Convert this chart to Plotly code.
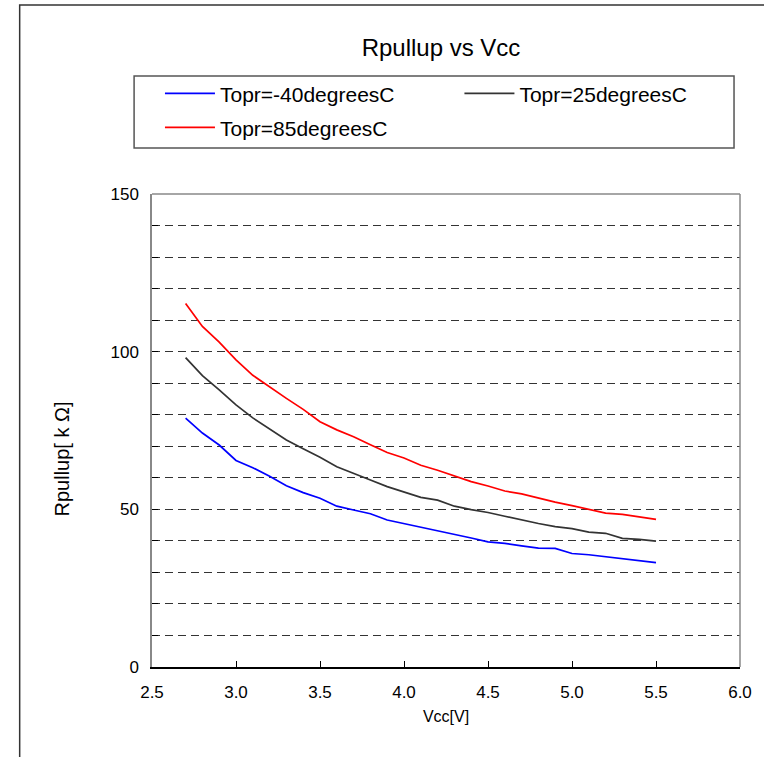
import plotly.graph_objects as go

vcc = [2.7, 2.8, 2.9, 3.0, 3.1, 3.2, 3.3, 3.4, 3.5, 3.6, 3.7, 3.8, 3.9, 4.0, 4.1,
       4.2, 4.3, 4.4, 4.5, 4.6, 4.7, 4.8, 4.9, 5.0, 5.1, 5.2, 5.3, 5.4, 5.5]

r_m40 = [78.9, 74.2, 70.4, 65.5, 63.2, 60.5, 57.5, 55.3, 53.5, 51.0, 49.8, 48.6, 46.6, 45.5, 44.2,
         43.1, 42.0, 40.9, 39.7, 39.2, 38.4, 37.7, 37.6, 36.0, 35.6, 35.0, 34.4, 33.8, 33.1]
r_25 = [98.1, 92.4, 87.9, 83.1, 79.0, 75.5, 72.0, 69.2, 66.5, 63.5, 61.5, 59.3, 57.2, 55.5, 53.8,
        52.9, 51.0, 49.9, 49.0, 47.8, 46.6, 45.5, 44.5, 43.9, 42.8, 42.4, 40.8, 40.5, 39.9]
r_85 = [115.3, 108.0, 103.0, 97.4, 92.5, 88.8, 85.2, 81.7, 77.8, 75.2, 73.0, 70.5, 68.0, 66.3, 64.0,
        62.4, 60.5, 58.8, 57.4, 55.8, 54.9, 53.5, 52.3, 51.2, 50.0, 48.8, 48.4, 47.5, 46.8]

names = ["Topr=-40degreesC", "Topr=25degreesC", "Topr=85degreesC"]
colors = ["#0000FF", "#333333", "#FF0000"]
x_ticks = [2.5, 3.0, 3.5, 4.0, 4.5, 5.0, 5.5, 6.0]
y_ticks = [0, 50, 100, 150]

FONT = "Liberation Sans, Arial, sans-serif"

# plot area in pixels: x 152..743, y 194..667
def px_x(p):
    return (p - 152) / 591

def px_y(p):
    return (667 - p) / 473

fig = go.Figure()
series = [r_m40, r_25, r_85]
legends = ["legend", "legend2", "legend3"]
for ys, nm, c, lg in zip(series, names, colors, legends):
    fig.add_trace(go.Scatter(x=vcc, y=ys, mode="lines", name=nm,
                             line=dict(color=c, width=1.7), legend=lg))

leg_common = dict(orientation="h", xanchor="left", yanchor="middle", itemwidth=50,
                  bgcolor="rgba(0,0,0,0)", borderwidth=0,
                  font=dict(family=FONT, size=21, color="black"))

fig.update_layout(
    width=764, height=757,
    margin=dict(l=152, r=21, t=194, b=90),
    paper_bgcolor="white", plot_bgcolor="white",
    font=dict(family=FONT, size=17, color="black"),
    title=dict(text="Rpullup vs Vcc", x=441/764, xref="container", xanchor="center",
               y=1-48/757, yref="container", yanchor="middle",
               font=dict(family=FONT, size=24, color="black")),
    legend=dict(x=px_x(160), y=px_y(93.7), **leg_common),
    legend2=dict(x=px_x(461), y=px_y(93.7), **leg_common),
    legend3=dict(x=px_x(160), y=px_y(127.7), **leg_common),
    showlegend=True,
)

fig.update_xaxes(
    range=[2.5, 6.0], tickvals=x_ticks, ticktext=[f"{v:.1f}" for v in x_ticks],
    ticks="inside", ticklen=6, tickcolor="black", tickwidth=1,
    showline=True, linecolor="black", linewidth=1.5,
    showgrid=False, zeroline=False, ticklabelstandoff=9,
    tickfont=dict(size=17),
    title=dict(text="Vcc[V]", standoff=10, font=dict(size=16)),
)
fig.update_yaxes(
    range=[0, 150], tickvals=y_ticks,
    ticks="inside", ticklen=6, tickcolor="black", tickwidth=1,
    showline=True, linecolor="#888888", linewidth=1.5,
    showgrid=True, gridcolor="#333333", gridwidth=1, griddash="8px,5px",
    minor=dict(dtick=10, tick0=0, ticks="inside", ticklen=6, tickcolor="black",
               showgrid=True, gridcolor="#333333", gridwidth=1, griddash="8px,5px"),
    zeroline=False, ticklabelstandoff=8,
    tickfont=dict(size=17),
)

# y-axis title placed where the reference has it
fig.add_annotation(text="Rpullup[ k Ω]", textangle=-90, xref="paper", yref="paper",
                   x=px_x(62), y=px_y(459), xanchor="center", yanchor="middle",
                   showarrow=False, font=dict(family=FONT, size=20, color="black"))

# plot-area frame (top/right grey)
fig.add_shape(type="line", xref="paper", yref="paper", x0=0, x1=1, y0=1, y1=1,
              line=dict(color="#888888", width=1.5))
fig.add_shape(type="line", xref="paper", yref="paper", x0=1, x1=1, y0=0, y1=1,
              line=dict(color="#888888", width=1.5))
# legend box
fig.add_shape(type="rect", xref="paper", yref="paper",
              x0=px_x(134), x1=px_x(737), y0=px_y(148), y1=px_y(76),
              line=dict(color="#555555", width=1.5), fillcolor="rgba(0,0,0,0)")
# outer chart border
fig.add_shape(type="rect", xref="paper", yref="paper",
              x0=px_x(19), x1=px_x(800), y0=px_y(800), y1=px_y(5),
              line=dict(color="#333333", width=1.5), fillcolor="rgba(0,0,0,0)")

fig.write_html("out.html", config={"displayModeBar": False},
               post_script="document.body.style.margin='0';")
